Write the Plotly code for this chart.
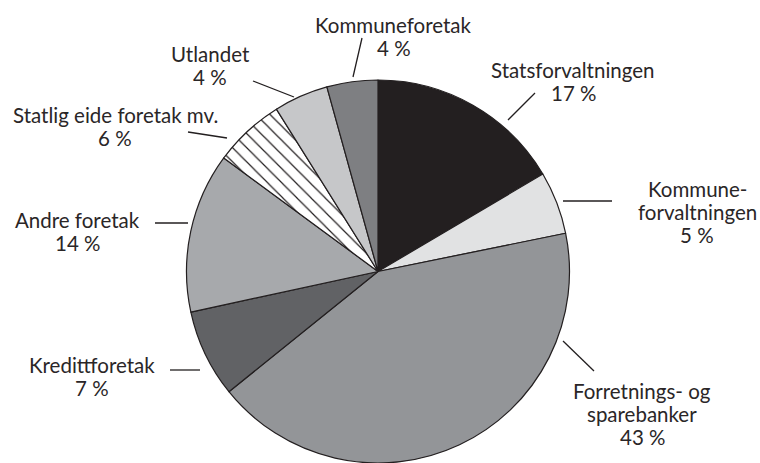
import plotly.graph_objects as go

# ---- data ----
sectors = [
    "Statsforvaltningen",
    "Kommuneforvaltningen",
    "Forretnings- og sparebanker",
    "Kredittforetak",
    "Andre foretak",
    "Statlig eide foretak mv.",
    "Utlandet",
    "Kommuneforetak",
]
shares = [16.5, 5.3, 42.4, 7.4, 13.5, 6.0, 4.6, 4.3]
pct_labels = ["17 %", "5 %", "43 %", "7 %", "14 %", "6 %", "4 %", "4 %"]
label_lines = [
    ["Statsforvaltningen"],
    ["Kommune-", "forvaltningen"],
    ["Forretnings- og", "sparebanker"],
    ["Kredittforetak"],
    ["Andre foretak"],
    ["Statlig eide foretak mv."],
    ["Utlandet"],
    ["Kommuneforetak"],
]

# ---- styling / layout ----
W, H = 760, 463
colors = ["#231f20", "#e1e2e3", "#939598", "#616265", "#a7a9ac", "#ffffff", "#c6c7c9", "#7e7f82"]
shapes_pat = ["", "", "", "", "", "\\", "", ""]
FONT = "Lato, Liberation Sans, Arial, sans-serif"
FS = 20.5
TXT = "#2a2627"
LINE_GAP = 23

# label anchor: (center x px, first baseline y px)
label_pos = [
    (573, 77), (697, 196), (642, 398), (92, 372),
    (77, 227), (115, 122), (210, 61), (394, 32),
]
# leader lines in px
leaders = [
    ((535, 93), (508, 120)),
    ((563, 201), (612, 201)),
    ((563, 341), (594, 371)),
    ((170, 370), (200, 370)),
    ((155, 223), (188, 223)),
    ((188, 132), (227, 138)),
    ((253, 81), (294, 97)),
    ((362, 38), (353, 77)),
]

cx, cy, r = 378, 272, 192

fig = go.Figure(go.Pie(
    labels=sectors,
    values=shares,
    sort=False,
    direction="clockwise",
    rotation=0,
    textinfo="none",
    hoverinfo="label+percent",
    marker=dict(
        colors=colors,
        line=dict(color="#231f20", width=1.2),
        pattern=dict(shape=shapes_pat, fgcolor="#231f20", bgcolor="#ffffff",
                     size=10, solidity=0.12, fillmode="replace"),
    ),
    domain=dict(x=[(cx - r) / W, (cx + r) / W], y=[0, (H - cy + r) / H]),
    showlegend=False,
))

def px_x(x):
    return x / W

def px_y(y):
    return 1 - y / H

annotations = []
for lines, pct, (lx, ly) in zip(label_lines, pct_labels, label_pos):
    for i, t in enumerate(lines + [pct]):
        base = ly + i * LINE_GAP
        annotations.append(dict(
            x=px_x(lx), y=px_y(base - 0.35 * FS), xref="paper", yref="paper",
            text=t, showarrow=False, xanchor="center", yanchor="middle",
            font=dict(family=FONT, size=FS, color=TXT),
        ))

shapes = []
for (x0, y0), (x1, y1) in leaders:
    shapes.append(dict(type="line", xref="paper", yref="paper",
                       x0=px_x(x0), y0=px_y(y0), x1=px_x(x1), y1=px_y(y1),
                       line=dict(color="#231f20", width=1.3)))

fig.update_layout(
    width=W, height=H,
    margin=dict(l=0, r=0, t=0, b=0),
    paper_bgcolor="white",
    plot_bgcolor="white",
    annotations=annotations,
    shapes=shapes,
)

fig.write_html(
    "out.html",
    config={"displayModeBar": False},
    post_script="document.body.style.margin='0';document.body.style.overflow='hidden';",
)
